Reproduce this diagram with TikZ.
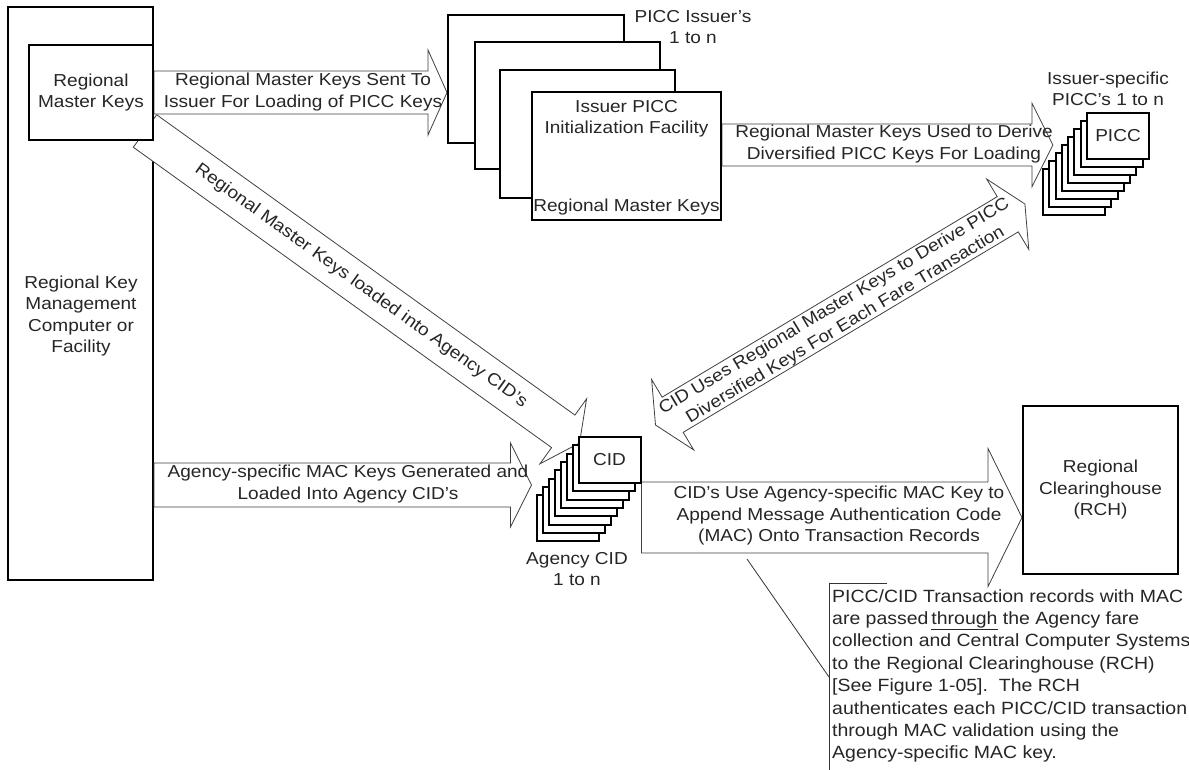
\documentclass[tikz,border=0pt]{standalone}
\usepackage{fontspec}
\setmainfont{Liberation Sans}[FakeStretch=1.1]
\usetikzlibrary{positioning, calc, backgrounds}
\tikzset{
    box/.style={rectangle, draw, line width=2pt, fill=white, inner sep=0pt, text=black!85, align=center},
    stackbox/.style={box, minimum width=62pt, minimum height=46pt},
    fat/.style={draw=black!75, line width=0.8pt, fill=white, line join=miter},
    txt/.style={inner sep=0pt, align=center, text=black!85},
    notetext/.style={inner sep=0pt, align=left, text=black!85, font=\fontsize{17.7pt}{22.4pt}\selectfont}
}
% block arrow: [options]{tail}{tip}{half shaft}{half head}{head length}
\newcommand{\fatarrow}[6][]{%
  \coordinate (fb) at ($(#3)!#6!(#2)$);
  \draw[fat,#1] ($(#2)!#4!90:(#3)$) -- ($(fb)!#4!90:(#3)$) -- ($(fb)!#5!90:(#3)$) -- (#3)
    -- ($(fb)!#5!-90:(#3)$) -- ($(fb)!#4!-90:(#3)$) -- ($(#2)!#4!-90:(#3)$) -- cycle;
}
% two headed block arrow: {end a}{end b}{half shaft}{half head}{head length}
\newcommand{\dblfatarrow}[5]{%
  \coordinate (fba) at ($(#1)!#5!(#2)$);
  \coordinate (fbb) at ($(#2)!#5!(#1)$);
  \draw[fat] (#1) -- ($(fba)!#4!90:(#2)$) -- ($(fba)!#3!90:(#2)$) -- ($(fbb)!#3!-90:(#1)$)
    -- ($(fbb)!#4!-90:(#1)$) -- (#2) -- ($(fbb)!#4!90:(#1)$) -- ($(fbb)!#3!90:(#1)$)
    -- ($(fba)!#3!-90:(#2)$) -- ($(fba)!#4!-90:(#2)$) -- cycle;
}

\begin{document}
\begin{tikzpicture}[x=1pt, y=-1pt, font=\fontsize{17.3pt}{21.5pt}\selectfont]
    \useasboundingbox (0,0) rectangle (1189,769);

    % key management side
    \node[box, minimum width=124pt, minimum height=95pt] (rmk) at (91,92.5) {Regional\\Master Keys};
    \node[txt] (rkmtext) at (81,316) {Regional Key\\Management\\Computer or\\Facility};

    % issuer facilities
    \node[box, minimum width=176pt, minimum height=128pt] (iss1) at (536,79) {};
    \node[box, minimum width=185pt, minimum height=127pt] (iss2) at (567.5,105.5) {};
    \node[box, minimum width=175pt, minimum height=128pt] (iss3) at (587.5,134) {};
    \node[box, minimum width=189pt, minimum height=128pt] (iss4) at (626.5,156) {};
    \node[txt, below=9pt of iss4.north] (isstitle) {Issuer PICC\\Initialization Facility};
    \node[txt, above=6pt of iss4.south] (issrmk) {Regional Master Keys};
    \node[txt] (issuers) at (693,27) {PICC Issuer’s\\1 to n};

    % PICC cards
    \foreach \i in {7,...,1}
        \node[stackbox] (picc\i) at ({1118-6.3*\i},{135.5+8*\i}) {};
    \node[stackbox] (picc0) at (1118,135.5) {PICC};
    \node[txt] (piccs) at (1108,89) {Issuer-specific\\PICC’s 1 to n};

    % agency CIDs
    \foreach \i in {7,...,1}
        \node[stackbox] (cid\i) at ({609.5-6*\i},{460+8.3*\i}) {};
    \node[stackbox] (cid0) at (609.5,460) {CID};
    \node[txt] (cids) at (577,569) {Agency CID\\1 to n};

    % clearinghouse
    \node[box, minimum width=155pt, minimum height=168pt] (rch) at (1100.5,490) {Regional\\Clearinghouse\\(RCH)};

    \begin{scope}[on background layer]
        \fill[white] (0,0) rectangle (1189,769);
        \node[box, minimum width=145pt, minimum height=573pt] (rkm) at (80.5,293.5) {};

        \coordinate (a1tip) at (rmk.east -| iss1.west);
        \fatarrow{rmk.east}{a1tip}{21.5pt}{42.5pt}{19pt}

        \coordinate (a2tail) at ($(iss4.east)+(0,-11)$);
        \coordinate (a2tip) at ($(a2tail -| picc7.west)+(11,0)$);
        \fatarrow{a2tail}{a2tip}{21pt}{42pt}{21pt}

        \coordinate (a3tail) at (rkm.east |- cid3.west);
        \coordinate (a3tip) at ($(cid7.west |- cid3.west)+(-4,0)$);
        \fatarrow{a3tail}{a3tip}{22pt}{42pt}{21pt}

        \coordinate (a4tail) at ($(cid0.south east)+(0,33.5)$);
        \coordinate (a4tip) at (a4tail -| rch.west);
        \fatarrow{a4tail}{a4tip}{35.5pt}{69pt}{34pt}

        \coordinate (a5tail) at ($(rmk.south east)+(-9,-10)$);
        \coordinate (a5tip) at ($(cid0.north west)+(2,7)$);
        \fatarrow{a5tail}{a5tip}{20pt}{40pt}{20pt}

        \coordinate (a6cid) at ($(cid0.north east)+(14,-11)$);
        \coordinate (a6picc) at ($(picc7.west)+(-17,12.5)$);
        \dblfatarrow{a6cid}{a6picc}{20.5pt}{41pt}{20pt}
    \end{scope}

    % arrow texts
    \node[txt] (a1text) at (303,92) {Regional Master Keys Sent To\\Issuer For Loading of PICC Keys};
    \node[txt] (a2text) at (894,144) {Regional Master Keys Used to Derive\\Diversified PICC Keys For Loading};
    \node[txt] (a3text) at (348,484) {Agency-specific MAC Keys Generated and\\Loaded Into Agency CID’s};
    \node[txt] (a4text) at (839,516) {CID’s Use Agency-specific MAC Key to\\Append Message Authentication Code\\(MAC) Onto Transaction Records};
    \node[txt, rotate=-35.76] (a5text) at (361,286) {Regional Master Keys loaded into Agency CID’s};
    \node[txt, rotate=30.9] (a6text) at (840,316) {CID Uses Regional Master Keys to Derive PICC\\Diversified Keys For Each Fare Transaction};

    % note on the records
    \begin{scope}
        \clip (0,0) rectangle (1189,769);
        \node[notetext, anchor=north west] (note) at (832,589) {PICC/CID Transaction records with MAC\\
            are passed\,\underline{through} the Agency fare\\
            collection and Central Computer Systems\\
            to the Regional Clearinghouse (RCH)\\
            {[}See Figure 1-05{]}.\ \ The RCH\\
            authenticates each PICC/CID transaction\\
            through MAC validation using the\\
            Agency-specific MAC key.};
        \coordinate (leader) at (747,559);
        \draw[black!80, line width=0.8pt] ($(note.north west)+(55,-6)$) -- ($(note.north west)+(-3,-6)$) -- ($(note.north west)+(-3,190)$);
        \draw[black!80, line width=0.8pt] (leader) -- ($(note.north west)+(-3,88)$);
    \end{scope}
\end{tikzpicture}
\end{document}
